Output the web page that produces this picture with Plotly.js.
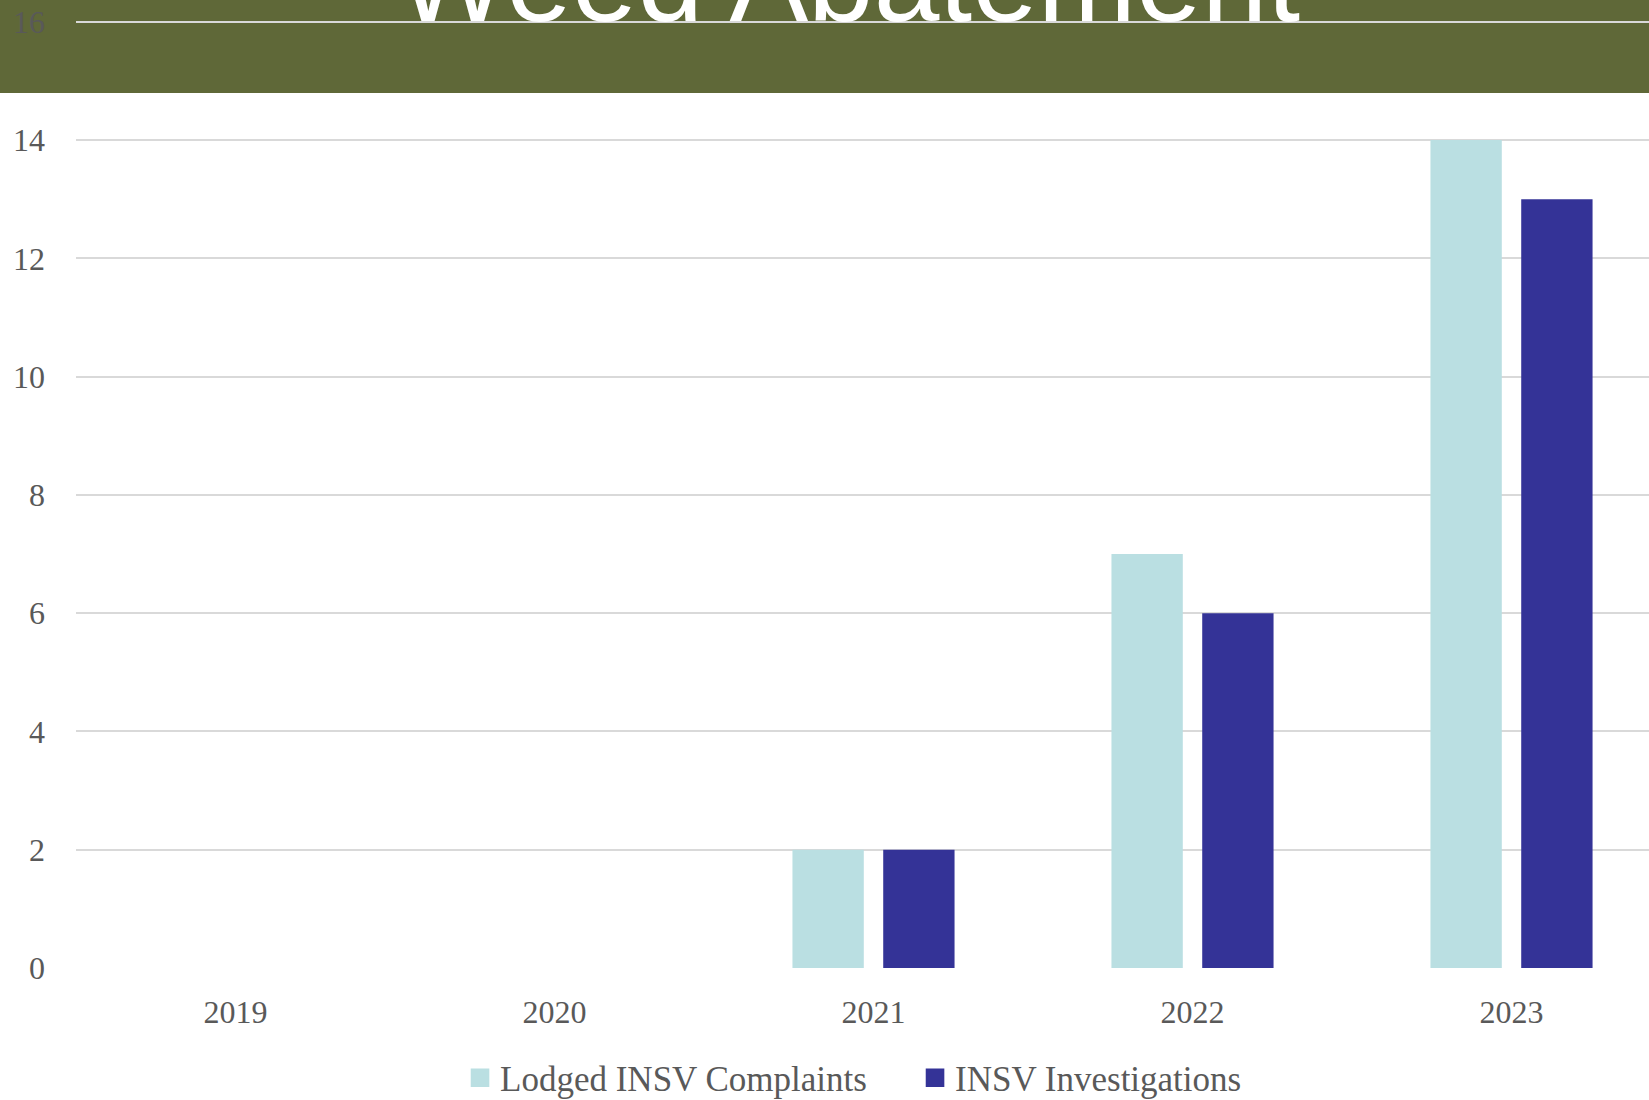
<!DOCTYPE html>
<html>
<head>
<meta charset="utf-8">
<script src="https://cdn.plot.ly/plotly-3.0.1.min.js"></script>
<style>
  html, body { margin: 0; padding: 0; background: #ffffff; }
  #chart { width: 1649px; height: 1100px; }
</style>
</head>
<body>
<div id="chart"></div>
<script>
// Yearly counts for the weed abatement programme
const years = ['2019', '2020', '2021', '2022', '2023'];
const lodgedComplaints = [0, 0, 2, 7, 14];
const investigations = [0, 0, 2, 6, 13];

const seriesNames = ['Lodged INSV Complaints', 'INSV Investigations'];
const titleText = 'Weed Abatement';

const serif = '"Liberation Serif", "DejaVu Serif", serif';
const grey = '#595959';

const traces = [
  {
    type: 'bar',
    name: seriesNames[0],
    x: years,
    y: lodgedComplaints,
    marker: { color: '#BADFE2', line: { width: 0 } },
    hoverinfo: 'x+y+name'
  },
  {
    type: 'bar',
    name: seriesNames[1],
    x: years,
    y: investigations,
    marker: { color: '#343397', line: { width: 0 } },
    hoverinfo: 'x+y+name'
  }
];

const layout = {
  width: 1649,
  height: 1100,
  margin: { l: 76, r: 0, t: 10, b: 132, pad: 0 },
  paper_bgcolor: '#ffffff',
  plot_bgcolor: 'rgba(0,0,0,0)',
  barmode: 'group',
  bargap: 0.431,
  bargroupgap: 0.214,
  showlegend: true,
  font: { family: serif, size: 32, color: grey },
  xaxis: {
    type: 'category',
    range: [-0.5, 4.431],
    showgrid: false,
    showline: false,
    zeroline: false,
    ticks: '',
    ticklabelstandoff: 22,
    tickfont: { family: serif, size: 32, color: grey },
    fixedrange: true
  },
  yaxis: {
    range: [0, 16.2],
    dtick: 2,
    tick0: 0,
    showgrid: true,
    gridcolor: '#D9D9D9',
    gridwidth: 1.5,
    showline: false,
    zeroline: false,
    ticks: '',
    ticklabelstandoff: 30,
    tickfont: { family: serif, size: 32, color: grey },
    fixedrange: true
  },
  legend: {
    orientation: 'h',
    xref: 'container',
    yref: 'container',
    x: 0.5549,
    xanchor: 'center',
    y: 0.02,
    yanchor: 'middle',
    entrywidth: 410,
    font: { family: serif, size: 35, color: grey },
    bgcolor: 'rgba(0,0,0,0)'
  },
  shapes: [
    {
      // header band behind the top of the chart
      type: 'rect',
      xref: 'paper', yref: 'paper',
      x0: -0.06, x1: 1.01,
      y0: 0.9134, y1: 1.05,
      fillcolor: '#5F6838',
      line: { width: 0 },
      layer: 'below'
    }
  ],
  annotations: [
    {
      text: titleText,
      xref: 'paper', yref: 'paper',
      x: 0.491, xanchor: 'center',
      y: 0.9603, yanchor: 'bottom',
      showarrow: false,
      font: { family: '"Liberation Sans", Arial, sans-serif', size: 118, color: '#ffffff' }
    }
  ]
};

// enlarge the square swatches in the legend, keeping them just left of the labels
function enlargeSwatches() {
  document.querySelectorAll('#chart .legend g.legendpoints').forEach(function (g) {
    g.setAttribute('transform', 'translate(-11,0) scale(1.55)');
  });
}

Plotly.newPlot('chart', traces, layout, { displayModeBar: false }).then(function (gd) {
  enlargeSwatches();
  gd.on('plotly_afterplot', enlargeSwatches);
});
</script>
</body>
</html>
